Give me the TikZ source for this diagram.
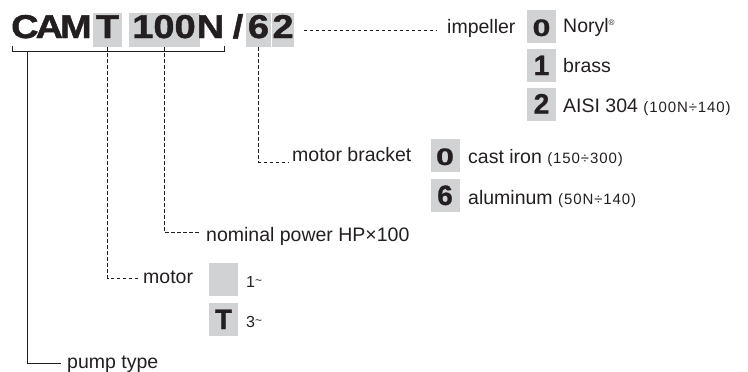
\documentclass[tikz,border=0pt]{standalone}
\usepackage{graphicx}
\usepackage{fontspec}
\setmainfont{Liberation Sans}
\newfontfamily\titlefont{Liberation Sans}[FakeStretch=1.15, FakeBold=1.4]
\newfontfamily\digitfont{Liberation Sans}[FakeBold=0.8]
\newfontfamily\smallfont{Liberation Sans}[LetterSpace=6]
\definecolor{ink}{RGB}{35,31,32}
\definecolor{boxgray}{RGB}{209,210,212}
\newcommand\smallpar[1]{{\smallfont\fontsize{15}{17}\selectfont #1}}
\newcommand\wzero{\scalebox{1.15}[0.85]{0}}
\newcommand\tld{\raisebox{3pt}{\fontsize{12}{12}\selectfont\textasciitilde}}
\begin{document}
\begin{tikzpicture}[x=1pt,y=-1pt,
  titletxt/.style={font=\titlefont\bfseries\fontsize{33}{35}\selectfont, inner sep=0pt, text=ink},
  titlebox/.style={titletxt, fill=boxgray, text height=25pt, text depth=9pt},
  optbox/.style={fill=boxgray, inner sep=0pt, minimum width=29pt, text height=26pt, text depth=7pt,
                 font=\digitfont\bfseries\fontsize{28}{30}\selectfont, text=ink},
  lbl/.style={font=\fontsize{19.5}{21}\selectfont, inner sep=0pt, text=ink, anchor=base west},
  small/.style={font=\fontsize{16}{17}\selectfont, inner sep=0pt, text=ink, anchor=base west},
  conn/.style={line width=0.9pt, draw=ink},
  dashconn/.style={line width=0.8pt, draw=ink, dash pattern=on 3.5pt off 2.5pt}]
\useasboundingbox (0,0) rectangle (748,372);

% title code
\node[titletxt, anchor=base west] (cam) at (11,38) {C\kern-3pt A\kern-3pt M};
\node[titlebox, minimum width=29pt] (bT) at (107.5,30) {T};
\node[titlebox, minimum width=71pt] (b100) at (164,30) {100};
\node[titletxt, anchor=base] (nN) at (210.5,38) {N};
\node[titletxt, anchor=base] (slash) at (238,38) {/};
\node[titlebox, minimum width=25pt] (b6) at (258.5,30) {6};
\node[titlebox, minimum width=21pt] (b2) at (283,30) {2};

% bracket under CAMT100N
\coordinate (brL) at (12,46);
\coordinate (brR) at (224,46);
\draw[conn] (brL) -- ++(0,5) -| (brR);

% pump type
\coordinate (pumpTop) at (27,51);
\coordinate (pumpEnd) at (61,363);
\draw[conn] (pumpTop) |- (pumpEnd);
\node[lbl] (pump) at (67,368) {pump type};

% motor
\coordinate (motEnd) at (140,278);
\draw[dashconn] (bT.south) |- (motEnd);
\node[lbl] (motor) at (143,283) {motor};
\node[optbox] (m1) at (223.5,279.5) {};
\node[optbox] (mT) at (223.5,319.5) {T};
\node[small] (m1t) at (246,287) {1\tld};
\node[small] (m3t) at (246,327) {3\tld};

% nominal power
\coordinate (nomEnd) at (199,232);
\draw[dashconn] (b100.south) |- (nomEnd);
\node[lbl] (nom) at (206,241.5) {nominal power HP×100};

% motor bracket
\coordinate (brkEnd) at (288,162);
\draw[dashconn] (b6.south) |- (brkEnd);
\node[lbl] (brk) at (292,161) {motor bracket};
\node[optbox] (o0) at (445,155.5) {\wzero};
\node[optbox] (o6) at (445,195.5) {6};
\node[lbl] (o0t) at (468,163) {cast iron \smallpar{(150÷300)}};
\node[lbl] (o6t) at (468,204) {aluminum \smallpar{(50N÷140)}};

% impeller
\coordinate (impEnd) at (436,30);
\draw[dashconn] ([xshift=10pt]b2.east) -- (impEnd);
\node[lbl] (imp) at (447,33) {impeller};
\node[optbox] (i0) at (541.5,26.5) {\wzero};
\node[optbox] (i1) at (541.5,65.5) {1};
\node[optbox] (i2) at (541.5,104) {2};
\node[lbl] (i0t) at (563,32) {Noryl\raisebox{7pt}{\fontsize{8}{8}\selectfont ®}};
\node[lbl] (i1t) at (563,72) {brass};
\node[lbl] (i2t) at (563,112) {AISI 304 \smallpar{(100N÷140)}};
\end{tikzpicture}
\end{document}
